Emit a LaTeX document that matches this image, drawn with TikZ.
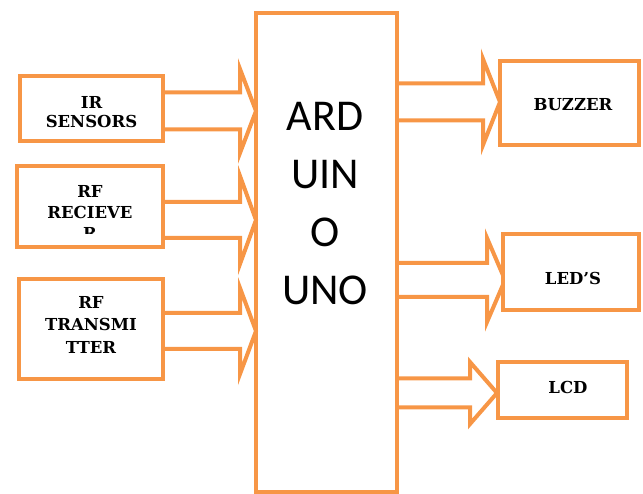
\documentclass[tikz,border=0pt]{standalone}
\usepackage{fontspec}
\newfontfamily\labfont{DejaVu Serif}
\newfontfamily\ardfont{Carlito}
\definecolor{orng}{HTML}{F79646}
\begin{document}
\begin{tikzpicture}[x=1pt,y=-1pt,
  box/.style={draw=orng,line width=4pt,fill=white,rectangle,inner sep=0pt},
  lab/.style={inner sep=0pt,align=center},
  blockarr/.style={draw=orng,line width=4pt,line join=miter}]
\useasboundingbox (0,0) rectangle (643,494);
% Arduino
\node[box,minimum width=141,minimum height=479] (ard) at (326.5,252.5) {};
\node[lab,font=\ardfont\fontsize{44}{58}\selectfont] (ardtxt) at (325,204) {ARD\\UIN\\O\\UNO};
% block arrows: x0, head x, tip x, centre y, shaft half, head half
\newcommand\blockarrow[6]{%
  \draw[blockarr] (#1,#4-#5) -- (#2,#4-#5) -- (#2,#4-#6) -- (#3,#4) -- (#2,#4+#6) -- (#2,#4+#5) -- (#1,#4+#5);}
\blockarrow{163}{240}{256}{111}{18.5}{42}
\blockarrow{163}{240}{256}{220}{18}{44}
\blockarrow{163}{240}{256}{331}{18}{43}
\blockarrow{397}{483}{500}{102}{18.5}{43}
\blockarrow{397}{487}{505}{280}{17}{42}
\blockarrow{397}{470}{497}{393}{14.5}{31}
% input boxes
\node[box,minimum width=143,minimum height=65] (ir) at (91.5,108.5) {};
\node[lab,font=\labfont\bfseries\fontsize{16.5}{19}\selectfont] (irt) at (91.5,112.5) {IR\\SENSORS};
\node[box,minimum width=146,minimum height=81] (rfr) at (90,206.5) {};
\begin{scope}
\clip (19,168) rectangle (161,233.5);
\node[lab,font=\labfont\bfseries\fontsize{16.5}{21}\selectfont] (rfrt) at (90,212) {RF\\RECIEVE\\R};
\end{scope}
\node[box,minimum width=144,minimum height=100] (rft) at (91,329) {};
\node[lab,font=\labfont\bfseries\fontsize{16.5}{22.5}\selectfont] (rftt) at (91,324.5) {RF\\TRANSMI\\TTER};
% output boxes
\node[box,minimum width=139,minimum height=84] (buz) at (569.5,103) {};
\node[lab,font=\labfont\bfseries\fontsize{16.5}{20}\selectfont] (buzt) at (573,105) {BUZZER};
\node[box,minimum width=136,minimum height=76] (led) at (571,272) {};
\node[lab,font=\labfont\bfseries\fontsize{16.5}{20}\selectfont] (ledt) at (573,278) {LED’S};
\node[box,minimum width=129,minimum height=56] (lcd) at (562.5,390) {};
\node[lab,font=\labfont\bfseries\fontsize{16.5}{20}\selectfont] (lcdt) at (568,387) {LCD};
\end{tikzpicture}
\end{document}
